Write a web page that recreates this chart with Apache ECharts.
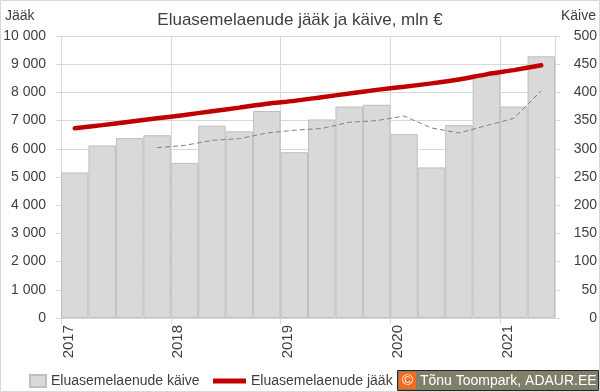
<!DOCTYPE html>
<html>
<head>
<meta charset="utf-8">
<script src="https://cdn.jsdelivr.net/npm/echarts@6/dist/echarts.min.js"></script>
<style>
html,body{margin:0;padding:0;background:#fff;}
#c{width:600px;height:392px;}
</style>
</head>
<body>
<div id="c"></div>
<script>
var quarters = ['2017 Q1','2017 Q2','2017 Q3','2017 Q4','2018 Q1','2018 Q2','2018 Q3','2018 Q4','2019 Q1','2019 Q2','2019 Q3','2019 Q4','2020 Q1','2020 Q2','2020 Q3','2020 Q4','2021 Q1','2021 Q2'];
var years = ['2017','2018','2019','2020','2021'];
var kaive = [258, 306, 319, 324, 275, 341, 331, 367, 294, 352, 375, 378, 326, 267, 342, 431, 375, 464];
var kaiveAvg = [null, null, null, 302, 306, 315, 318, 328, 333, 336, 347, 350, 358, 337, 328, 341, 354, 403];
var jaak = [6730, 6840, 6960, 7080, 7200, 7330, 7460, 7600, 7700, 7830, 7960, 8090, 8200, 8320, 8460, 8640, 8790, 8960];

var FONT = "'Liberation Sans', Arial, sans-serif";
var TXT = '#404040';
var chart = echarts.init(document.getElementById('c'), null, {renderer:'canvas'});
chart.setOption({
  animation: false,
  backgroundColor: '#fff',
  textStyle: {fontFamily: FONT},
  title: {
    text: 'Eluasemelaenude jääk ja käive, mln €',
    left: 'center', top: 7,
    textStyle: {fontFamily: FONT, fontSize: 17, fontWeight: 'normal', color: TXT}
  },
  grid: {left: 61, right: 45, top: 36, bottom: 74},
  legend: [
    {left: 24, top: 369, itemWidth: 16, itemHeight: 12, itemGap: 4,
     textStyle: {fontFamily: FONT, fontSize: 14, color: TXT},
     data: [{name: 'Eluasemelaenude käive', icon: 'rect'}]},
    {left: 208, top: 369, itemWidth: 33, itemHeight: 5, itemGap: 4,
     textStyle: {fontFamily: FONT, fontSize: 14, color: TXT},
     data: [{name: 'Eluasemelaenude jääk', icon: 'rect'}]}
  ],
  xAxis: [
    {type: 'category', data: quarters, boundaryGap: true, show: false},
    {type: 'value', min: 0, max: 18, interval: 4, position: 'bottom',
     axisLine: {show: true, lineStyle: {color: '#D9D9D9'}},
     axisTick: {show: true, length: 6, lineStyle: {color: '#D9D9D9'}},
     splitLine: {show: true, lineStyle: {color: '#D9D9D9'}},
     axisLabel: {rotate: 90, margin: 7, verticalAlign: 'top', padding: [0, 0, 0, 0],
       fontFamily: FONT, fontSize: 15, color: TXT,
       showMaxLabel: false,
       formatter: function(v){ return years[v/4] || ''; }}}
  ],
  yAxis: [
    {type: 'value', min: 0, max: 10000, interval: 1000, position: 'left',
     axisLine: {show: true, lineStyle: {color: '#D9D9D9'}},
     axisTick: {show: true, length: 5, lineStyle: {color: '#D9D9D9'}},
     splitLine: {show: true, lineStyle: {color: '#D9D9D9'}},
     axisLabel: {margin: 15, fontFamily: FONT, fontSize: 14, color: TXT,
       formatter: function(v){ return String(v).replace(/\B(?=(\d{3})+(?!\d))/g, ' '); }}},
    {type: 'value', min: 0, max: 500, interval: 50, position: 'right',
     axisLine: {show: false},
     axisTick: {show: true, length: 5, lineStyle: {color: '#D9D9D9'}},
     splitLine: {show: false},
     axisLabel: {margin: 42, align: 'right', fontFamily: FONT, fontSize: 14, color: TXT}}
  ],
  series: [
    {name: 'Eluasemelaenude käive', type: 'bar', xAxisIndex: 0, yAxisIndex: 1, data: kaive,
     barCategoryGap: '0%',
     itemStyle: {color: '#D9D9D9', borderColor: '#BFBFBF', borderWidth: 1}, z: 2},
    {name: 'Libisev keskmine', type: 'line', xAxisIndex: 0, yAxisIndex: 1, data: kaiveAvg,
     symbol: 'none', lineStyle: {color: '#808080', width: 1, type: [5, 3]}, z: 3},
    {name: 'Eluasemelaenude jääk', type: 'line', xAxisIndex: 0, yAxisIndex: 0, data: jaak,
     symbol: 'none', smooth: 0.3, itemStyle: {color: '#C00000'},
     lineStyle: {color: '#C00000', width: 4.5, cap: 'round'}, z: 4}
  ],
  graphic: [
    {type: 'rect', shape: {x: 0.5, y: 0.5, width: 599, height: 391},
     style: {fill: 'none', stroke: '#D9D9D9', lineWidth: 1}, z: -1, silent: true},
    {type: 'text', left: 5, top: 9,
     style: {text: 'Jääk', font: '14px ' + FONT, fill: TXT}},
    {type: 'text', right: 4, top: 9,
     style: {text: 'Käive', font: '14px ' + FONT, fill: TXT}},
    {type: 'rect', shape: {x: 397.5, y: 370.5, width: 201, height: 20},
     style: {fill: '#7F7F6A', stroke: '#262626', lineWidth: 1}, z: 10},
    {type: 'rect', shape: {x: 399, y: 372, width: 17, height: 17},
     style: {fill: '#F26B21'}, z: 11},
    {type: 'text', x: 407.5, y: 380.5,
     style: {text: '©', font: '15px ' + FONT, fill: '#fff', align: 'center', verticalAlign: 'middle'}, z: 12},
    {type: 'text', x: 420, y: 381,
     style: {text: 'Tõnu Toompark, ADAUR.EE', font: '14px ' + FONT, fill: '#fff', verticalAlign: 'middle'}, z: 12}
  ]
});
</script>
</body>
</html>
